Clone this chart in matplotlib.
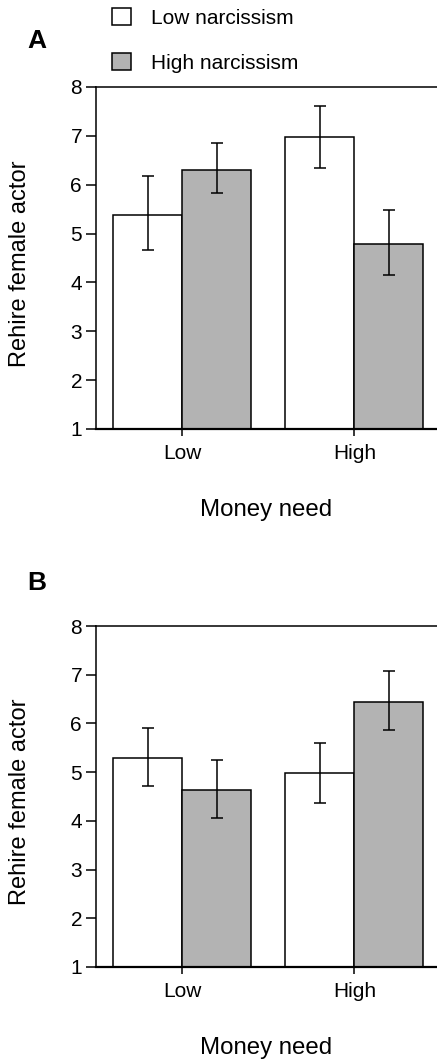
import matplotlib
matplotlib.use("Agg")
import matplotlib.pyplot as plt
from matplotlib.patches import Patch
import numpy as np

plt.rcParams.update({
    "font.family": ["Liberation Sans", "DejaVu Sans"],
    "axes.linewidth": 1.1,
})

# ── Data ──────────────────────────────────────────────────────────────
groups = ["Low", "High"]
series = ["Low narcissism", "High narcissism"]
colors = ["#ffffff", "#b3b3b3"]

# panel A: means and error bar ends (lower, upper)
a_low_narc = [5.39, 6.97]
a_low_narc_lo = [4.67, 6.35]
a_low_narc_hi = [6.18, 7.62]
a_high_narc = [6.31, 4.79]
a_high_narc_lo = [5.83, 4.16]
a_high_narc_hi = [6.86, 5.48]

# panel B
b_low_narc = [5.30, 4.99]
b_low_narc_lo = [4.72, 4.37]
b_low_narc_hi = [5.91, 5.59]
b_high_narc = [4.63, 6.45]
b_high_narc_lo = [4.05, 5.87]
b_high_narc_hi = [5.25, 7.07]

W, H = 437, 1061
fig = plt.figure(figsize=(W / 100, H / 100), dpi=100)


def px_axes(left, top, right, bottom):
    return fig.add_axes([left / W, 1 - bottom / H, (right - left) / W, (bottom - top) / H])


def panel(ax, means, los, his):
    x = np.arange(len(groups))
    w = 0.4
    offs = [-0.2, 0.2]
    for m, lo, hi, off, c in zip(means, los, his, offs, colors):
        m = np.array(m)
        yerr = [m - np.array(lo), np.array(hi) - m]
        ax.bar(x + off, m - 1, w, bottom=1, color=c, edgecolor="black", linewidth=1.1, zorder=2)
        ax.errorbar(x + off, m, yerr=yerr, fmt="none", ecolor="black",
                    elinewidth=1.1, capsize=4.2, capthick=1.1, zorder=3)
    ax.set_xlim(-0.5, 1.48)
    ax.set_ylim(1, 8)
    ax.set_yticks(range(1, 9))
    ax.set_xticks(x)
    ax.set_xticklabels(groups)
    ax.spines["right"].set_visible(False)
    ax.spines["bottom"].set_linewidth(1.6)
    ax.tick_params(axis="y", length=7, width=1.1, pad=3, labelsize=15)
    ax.tick_params(axis="x", length=5, width=1.1, pad=6, labelsize=15)
    ax.set_xlabel("Money need", fontsize=17.3, labelpad=26)


axA = px_axes(96, 87, 437, 429)
panel(axA, [a_low_narc, a_high_narc], [a_low_narc_lo, a_high_narc_lo], [a_low_narc_hi, a_high_narc_hi])
axB = px_axes(96, 626, 437, 967)
panel(axB, [b_low_narc, b_high_narc], [b_low_narc_lo, b_high_narc_lo], [b_low_narc_hi, b_high_narc_hi])

for ax, y in [(axA, 264), (axB, 802)]:
    fig.text(20 / W, 1 - y / H, "Rehire female actor", rotation=90,
             ha="center", va="center", fontsize=17)

fig.text(27 / W, 1 - 41 / H, "A", fontsize=19, fontweight="bold", va="center", ha="left")
fig.text(27 / W, 1 - 583 / H, "B", fontsize=19, fontweight="bold", va="center", ha="left")

handles = [Patch(facecolor=c, edgecolor="black", linewidth=1.1) for c in colors]
fig.legend(handles, series, loc="upper left", bbox_to_anchor=(112 / W, 1 - 8 / H),
           frameon=False, fontsize=15, handlelength=0.9, handleheight=0.9,
           handletextpad=0.95, labelspacing=1.2, borderpad=0, borderaxespad=0)

fig.savefig("out.png", dpi=100)
